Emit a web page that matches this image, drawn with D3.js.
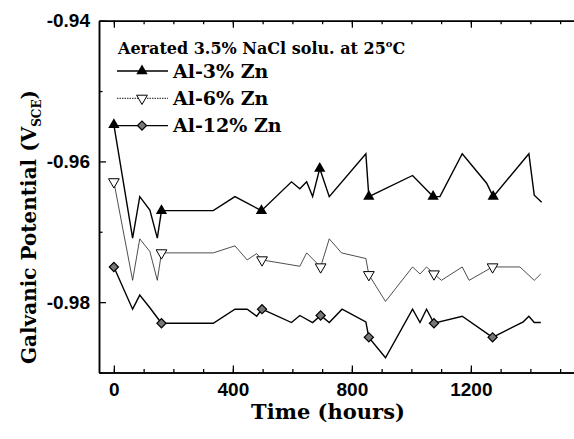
<!DOCTYPE html>
<html>
<head>
<meta charset="utf-8">
<script src="https://cdn.jsdelivr.net/npm/d3@7"></script>
<style>
  body { margin: 0; background: #fff; }
  svg { display: block; font-family: "DejaVu Serif", "Liberation Serif", serif; font-weight: bold; }
</style>
</head>
<body>
<div id="chart"></div>
<script>
// data
const seriesNames = ['Al-3% Zn', 'Al-6% Zn', 'Al-12% Zn'];
const legendTitle = 'Aerated 3.5% NaCl solu. at 25';

const hours3 = [0, 63, 87, 121, 146, 160, 334, 407, 496, 597, 625, 648, 668, 692, 724, 847, 857, 1004, 1073, 1096, 1171, 1253, 1275, 1395, 1413, 1438];
const volts3 = [-0.9548, -0.9709, -0.965, -0.9669, -0.9709, -0.967, -0.967, -0.965, -0.967, -0.9629, -0.9639, -0.9629, -0.965, -0.961, -0.965, -0.9589, -0.965, -0.962, -0.965, -0.965, -0.9589, -0.9631, -0.965, -0.9589, -0.9648, -0.9658];
const marks3 = [0, 160, 496, 692, 857, 1073, 1275];

const hours6 = [0, 63, 87, 121, 146, 160, 334, 407, 448, 480, 498, 625, 648, 695, 724, 765, 847, 857, 913, 1004, 1029, 1051, 1076, 1101, 1171, 1194, 1273, 1365, 1413, 1435];
const volts6 = [-0.9629, -0.9769, -0.971, -0.9728, -0.9769, -0.973, -0.973, -0.972, -0.974, -0.9731, -0.974, -0.9749, -0.973, -0.975, -0.971, -0.973, -0.9738, -0.9761, -0.9799, -0.975, -0.976, -0.975, -0.976, -0.9769, -0.975, -0.9769, -0.975, -0.975, -0.9769, -0.976];
const marks6 = [0, 160, 498, 695, 857, 1076, 1273];

const hours12 = [0, 63, 87, 121, 160, 334, 407, 448, 480, 498, 597, 625, 668, 695, 724, 767, 847, 857, 913, 1004, 1029, 1051, 1076, 1171, 1273, 1376, 1395, 1413, 1435];
const volts12 = [-0.975, -0.981, -0.979, -0.9808, -0.983, -0.983, -0.981, -0.981, -0.982, -0.981, -0.9829, -0.9819, -0.9829, -0.9819, -0.9829, -0.981, -0.9828, -0.985, -0.9879, -0.981, -0.9829, -0.981, -0.983, -0.982, -0.985, -0.9828, -0.982, -0.9829, -0.9829];
const marks12 = [0, 160, 498, 695, 857, 1076, 1273];

const xMajor = [0, 400, 800, 1200];
const xMinor = d3.range(0, 1600, 100);
const yMajor = [-0.98, -0.96, -0.94];
const yMinor = [-0.99, -0.97, -0.95];

const width = 574, height = 439;
const plot = { left: 99, right: 575, top: 20.7, bottom: 372.5 };

const svg = d3.select('#chart').append('svg')
    .attr('width', width)
    .attr('height', height);

const x = d3.scaleLinear().domain([-50, 1550]).range([plot.left, plot.right]);
const y = d3.scaleLinear().domain([-0.99, -0.94]).range([plot.bottom, plot.top]);

// axes, ticks point inward
function styleAxis(g) {
    g.selectAll('.domain').attr('stroke', '#000').attr('stroke-width', 1.5);
    g.selectAll('.tick line').attr('stroke', '#000').attr('stroke-width', 1.3);
    g.selectAll('text').attr('fill', '#000').attr('font-size', 19).attr('font-family', null);
}

svg.append('g')
    .attr('transform', `translate(0,${plot.bottom})`)
    .call(d3.axisBottom(x).tickValues(xMinor).tickSize(-3.5).tickSizeOuter(0).tickFormat(''))
    .call(styleAxis);
svg.append('g')
    .attr('transform', `translate(0,${plot.bottom})`)
    .call(d3.axisBottom(x).tickValues(xMajor).tickSize(-7).tickSizeOuter(0).tickPadding(10).tickFormat(d => d))
    .call(styleAxis);

svg.append('g')
    .attr('transform', `translate(0,${plot.top})`)
    .call(d3.axisTop(x).tickValues(xMinor).tickSize(-3.5).tickSizeOuter(0).tickFormat(''))
    .call(styleAxis);
svg.append('g')
    .attr('transform', `translate(0,${plot.top})`)
    .call(d3.axisTop(x).tickValues(xMajor).tickSize(-7).tickSizeOuter(0).tickFormat(''))
    .call(styleAxis);

svg.append('g')
    .attr('transform', `translate(${plot.left},0)`)
    .call(d3.axisLeft(y).tickValues(yMinor).tickSize(-3.5).tickSizeOuter(0).tickFormat(''))
    .call(styleAxis);
svg.append('g')
    .attr('transform', `translate(${plot.left},0)`)
    .call(d3.axisLeft(y).tickValues(yMajor).tickSize(-7).tickSizeOuter(0).tickPadding(9).tickFormat(d => d.toFixed(2)))
    .call(styleAxis);

// axis titles
svg.append('text')
    .attr('x', 328)
    .attr('y', 419)
    .attr('text-anchor', 'middle')
    .attr('font-size', 21)
    .text('Time (hours)');

const yTitle = svg.append('text')
    .attr('transform', 'translate(36,227) rotate(-90)')
    .attr('text-anchor', 'middle')
    .attr('font-size', 20);
yTitle.append('tspan').text('Galvanic Potential (V');
yTitle.append('tspan').attr('font-size', 12).attr('dy', 5).text('SCE');
yTitle.append('tspan').attr('dy', -5).text(')');

// series
const series = [
    { name: seriesNames[0], hours: hours3, volts: volts3, marks: marks3, width: 1.4, kind: 'up' },
    { name: seriesNames[1], hours: hours6, volts: volts6, marks: marks6, width: 0.8, kind: 'down' },
    { name: seriesNames[2], hours: hours12, volts: volts12, marks: marks12, width: 1.4, kind: 'diamond' }
];

const line = d3.line()
    .x(d => x(d[0]))
    .y(d => y(d[1]));

function drawMarker(g, kind, px, py) {
    if (kind === 'up') {
        g.append('path')
            .attr('d', d3.symbol(d3.symbolTriangle, 55)())
            .attr('transform', `translate(${px},${py})`)
            .attr('fill', '#000');
    } else if (kind === 'down') {
        g.append('path')
            .attr('d', d3.symbol(d3.symbolTriangle, 50)())
            .attr('transform', `translate(${px},${py}) rotate(180)`)
            .attr('fill', '#fff')
            .attr('stroke', '#000')
            .attr('stroke-width', 1);
    } else {
        g.append('path')
            .attr('d', d3.symbol(d3.symbolSquare, 42)())
            .attr('transform', `translate(${px},${py}) rotate(45)`)
            .attr('fill', '#777')
            .attr('stroke', '#000')
            .attr('stroke-width', 1.2);
    }
}

series.forEach(s => {
    const pts = s.hours.map((h, i) => [h, s.volts[i]]);
    svg.append('path')
        .datum(pts)
        .attr('d', line)
        .attr('fill', 'none')
        .attr('stroke', s.kind === 'down' ? '#222' : '#000')
        .attr('stroke-width', s.width)
        .attr('stroke-linejoin', 'miter');
    const g = svg.append('g');
    pts.filter(d => s.marks.includes(d[0]))
        .forEach(d => drawMarker(g, s.kind, x(d[0]), y(d[1])));
});

// legend
const legend = svg.append('g');
const title = legend.append('text')
    .attr('x', 118)
    .attr('y', 54)
    .attr('font-size', 16)
    .text(legendTitle);
title.append('tspan').attr('font-size', 10).attr('dy', -7).text('o');
title.append('tspan').attr('dy', 7).text('C');

series.forEach((s, i) => {
    const ly = 71 + i * 27.3;
    legend.append('line')
        .attr('x1', 117).attr('x2', 168)
        .attr('y1', ly).attr('y2', ly)
        .attr('stroke', '#000')
        .attr('stroke-width', s.kind === 'down' ? 0.9 : 1.4)
        .attr('stroke-dasharray', s.kind === 'down' ? '1.5,1' : null);
    drawMarker(legend, s.kind, 142, ly);
    legend.append('text')
        .attr('x', 173)
        .attr('y', ly + 6.5)
        .attr('font-size', 19)
        .text(s.name);
});
</script>
</body>
</html>
